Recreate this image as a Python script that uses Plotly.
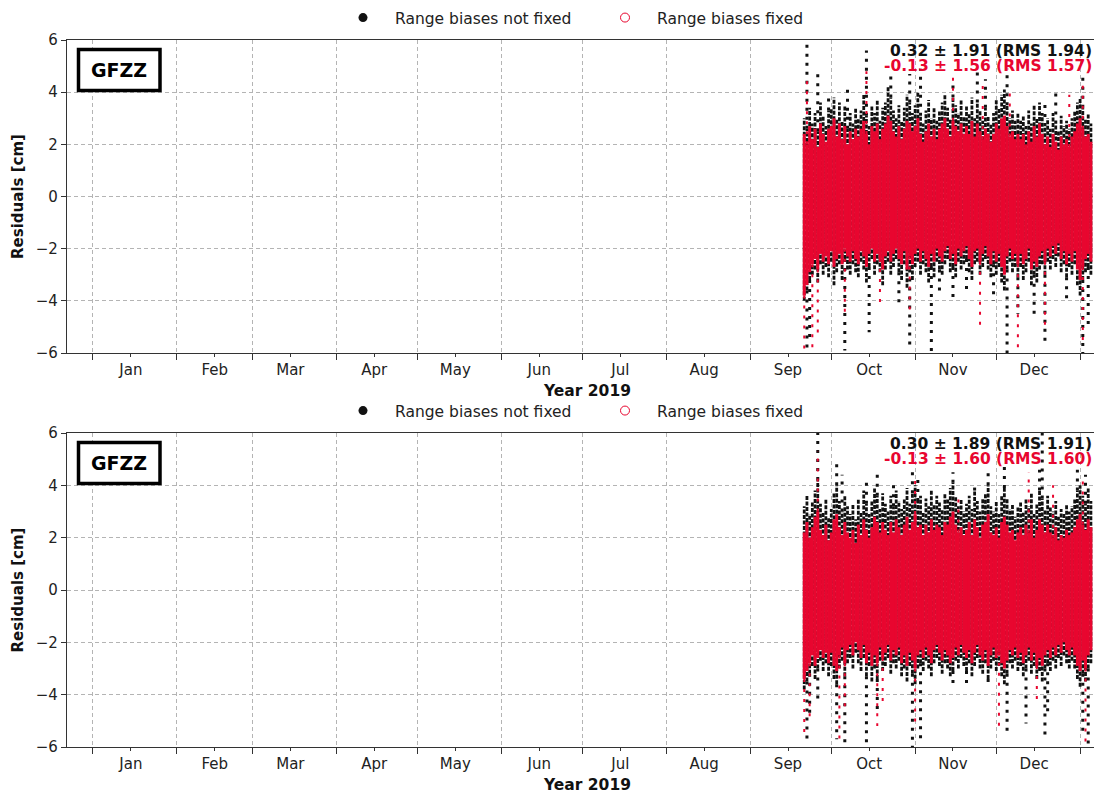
import pandas as pd
import plotly.graph_objects as go

# ---------------- data ----------------
START = "2019-09-21"          # first day with residuals
MONTHS = ["Jan", "Feb", "Mar", "Apr", "May", "Jun", "Jul", "Aug", "Sep", "Oct", "Nov", "Dec"]
MONTH_MID = ["2019-01-15", "2019-02-15", "2019-03-15", "2019-04-15", "2019-05-15", "2019-06-15",
             "2019-07-15", "2019-08-15", "2019-09-15", "2019-10-15", "2019-11-15", "2019-12-15"]
MONTH_START = ["2019-01-01", "2019-02-01", "2019-03-01", "2019-04-01", "2019-05-01", "2019-06-01",
               "2019-07-01", "2019-08-01", "2019-09-01", "2019-10-01", "2019-11-01", "2019-12-01",
               "2020-01-01"]
Y_TICKS = [-6, -4, -2, 0, 2, 4, 6]
X_TITLE = "Year 2019"
Y_TITLE = "Residuals [cm]"

# ---- panel 1: daily envelope of the dense residual band [cm]
NF1_HI = [3.0, 2.6, 3.4, 2.8, 3.2, 2.5, 3.6, 3.1, 2.7, 3.3,
          3.4, 3.8, 3.0, 3.6, 2.9, 3.5, 2.6, 3.2, 2.8, 3.4,
          3.0, 3.3, 3.9, 3.1, 2.7, 3.5, 3.2, 3.7, 2.9, 3.4,
          3.6, 4.2, 3.8, 3.3, 3.0, 3.5, 2.9, 3.4, 3.9, 3.6,
          3.2, 3.5, 4.0, 3.1, 2.8, 3.3, 3.7, 3.0, 3.4, 2.9,
          3.3, 3.6, 3.9, 3.4, 3.0, 3.8, 3.5, 3.2, 3.7, 3.1,
          3.5, 3.2, 3.8, 3.0, 3.6, 3.3, 2.9, 3.4, 3.1, 2.8,
          3.2, 3.7, 3.4, 3.9, 4.1, 3.5, 3.0, 3.3, 2.9, 3.2,
          2.9, 3.1, 2.7, 3.3, 2.8, 3.5, 3.0, 3.6, 3.2, 2.7,
          3.0, 2.6, 3.2, 2.8, 2.5, 3.1, 2.7, 2.9, 2.6, 3.0,
          3.3, 3.6, 3.8, 3.4, 3.0, 3.2, 2.8]
NF1_LO = [-4.0, -3.6, -3.2, -3.0, -2.8, -3.3, -2.6, -3.0, -2.7, -3.1,
          -2.5, -3.4, -2.9, -2.6, -3.2, -2.4, -2.8, -3.0, -2.6, -2.9,
          -3.1, -2.5, -2.8, -3.3, -2.7, -2.4, -3.0, -2.6, -2.9, -3.4,
          -2.8, -2.5, -3.0, -2.7, -2.4, -2.9, -3.2, -2.6, -3.5, -2.8,
          -3.2, -2.7, -2.5, -3.0, -2.6, -2.9, -3.3, -2.7, -3.1, -2.5,
          -2.8, -3.0, -2.6, -2.4, -2.9, -2.7, -3.1, -2.5, -2.8, -2.6,
          -2.4, -2.9, -3.2, -2.6, -2.5, -3.0, -2.7, -2.4, -2.8, -3.1,
          -2.6, -3.0, -2.7, -3.3, -3.6, -2.8, -2.5, -2.9, -2.7, -3.1,
          -2.7, -3.2, -2.9, -2.5, -3.4, -3.0, -3.3, -2.8, -2.6, -3.0,
          -2.5, -2.8, -2.4, -2.7, -2.3, -2.9, -2.6, -3.1, -2.7, -3.0,
          -2.6, -3.4, -3.8, -3.2, -2.9, -2.7, -3.0]
FX1_HI = [2.4, 2.0, 2.7, 2.2, 2.6, 1.9, 2.8, 2.4, 2.1, 2.6,
          2.7, 3.0, 2.3, 2.8, 2.2, 2.7, 2.0, 2.5, 2.2, 2.6,
          2.3, 2.6, 2.9, 2.4, 2.0, 2.7, 2.5, 2.8, 2.2, 2.6,
          2.8, 3.1, 2.9, 2.5, 2.3, 2.7, 2.2, 2.6, 2.9, 2.8,
          2.5, 2.7, 3.0, 2.4, 2.1, 2.5, 2.8, 2.3, 2.6, 2.2,
          2.6, 2.8, 3.0, 2.6, 2.3, 2.9, 2.7, 2.5, 2.8, 2.4,
          2.7, 2.4, 2.9, 2.3, 2.8, 2.5, 2.2, 2.6, 2.4, 2.1,
          2.4, 2.8, 2.6, 3.0, 3.1, 2.7, 2.3, 2.5, 2.2, 2.4,
          2.2, 2.4, 2.0, 2.5, 2.1, 2.7, 2.3, 2.8, 2.4, 2.0,
          2.3, 1.9, 2.4, 2.1, 1.8, 2.3, 2.0, 2.2, 1.9, 2.3,
          2.5, 2.8, 3.0, 2.6, 2.3, 2.4, 2.1]
FX1_LO = [-3.8, -3.4, -2.9, -2.6, -2.4, -2.8, -2.2, -2.5, -2.3, -2.6,
          -2.1, -2.7, -2.4, -2.2, -2.6, -2.0, -2.3, -2.5, -2.1, -2.4,
          -2.6, -2.1, -2.3, -2.7, -2.2, -2.0, -2.5, -2.2, -2.4, -2.8,
          -2.3, -2.1, -2.5, -2.2, -2.0, -2.4, -2.6, -2.1, -2.8, -2.3,
          -2.6, -2.2, -2.0, -2.5, -2.1, -2.4, -2.7, -2.2, -2.5, -2.0,
          -2.3, -2.5, -2.1, -1.9, -2.4, -2.2, -2.6, -2.0, -2.3, -2.1,
          -1.9, -2.4, -2.7, -2.1, -2.0, -2.5, -2.2, -1.9, -2.3, -2.6,
          -2.1, -2.5, -2.2, -2.7, -3.0, -2.3, -2.0, -2.4, -2.2, -2.6,
          -2.2, -2.6, -2.4, -2.0, -2.8, -2.5, -2.7, -2.3, -2.1, -2.5,
          -2.0, -2.3, -1.9, -2.2, -1.8, -2.4, -2.1, -2.6, -2.2, -2.5,
          -2.1, -2.8, -3.2, -2.7, -2.4, -2.2, -2.5]
# sparse outlier columns: (day index, extreme value)
NF1_TAIL_DAY = [1, 1, 2, 5, 9, 15, 16, 23, 24, 32, 35, 39, 39, 43, 47, 50, 55, 55, 60, 64,
                67, 70, 75, 75, 79, 85, 89, 89, 93, 97, 103, 103, 105]
NF1_TAIL_VAL = [6.0, -5.8, -5.5, 4.9, 4.0, -5.9, 4.3, 5.6, -5.2, 4.7, -4.2, -5.9, 4.7, 4.9, -6.0, -3.8, 4.3, -3.9, -3.6, 4.8,
                4.5, -4.0, 4.9, -6.0, -4.5, -4.5, -5.7, 3.7, 4.0, -4.1, 4.7, -6.0, -5.0]
FX1_TAIL_DAY = [0, 1, 3, 5, 15, 23, 28, 39, 55, 65, 66, 76, 79, 89, 98, 103, 103]
FX1_TAIL_VAL = [-5.9, 4.6, -5.8, -5.4, -4.6, 4.8, -4.1, -4.5, 4.7, -5.0, 4.4, 4.1, -6.0, -5.0, 3.9, 4.5, -5.5]

# ---- panel 2
NF2_HI = [3.2, 3.6, 2.9, 3.4, 3.8, 4.2, 3.3, 3.0, 3.5, 2.8,
          3.1, 3.7, 4.0, 3.4, 3.0, 3.6, 3.2, 2.9, 3.3, 2.7,
          3.5, 3.0, 3.8, 3.3, 2.9, 3.4, 3.9, 3.6, 3.1, 3.7,
          3.3, 3.0, 3.6, 3.2, 3.8, 3.4, 3.1, 3.5, 3.9, 3.3,
          3.7, 4.0, 3.4, 3.6, 3.0, 3.5, 3.2, 3.8, 3.3, 3.6,
          3.4, 3.1, 3.7, 3.5, 3.9, 4.1, 3.6, 3.2, 3.5, 3.0,
          3.3, 3.6, 3.1, 3.8, 3.4, 3.0, 3.5, 3.7, 4.0, 3.2,
          3.0, 3.4, 2.9, 3.6, 3.9, 3.5, 3.1, 3.3, 2.8, 3.2,
          3.4, 3.0, 3.5, 3.2, 3.7, 2.9, 3.3, 3.8, 3.5, 3.1,
          3.6, 3.2, 3.0, 3.4, 2.8, 3.1, 2.9, 3.3, 3.0, 3.2,
          3.5, 3.8, 4.0, 3.6, 3.3, 3.9, 3.4]
NF2_LO = [-3.8, -3.5, -3.2, -2.9, -3.4, -3.0, -2.7, -3.1, -2.8, -3.3,
          -2.9, -3.4, -3.6, -3.0, -2.7, -3.3, -2.8, -2.6, -3.0, -2.4,
          -2.8, -3.1, -2.6, -3.3, -2.9, -3.5, -3.0, -3.4, -2.7, -3.1,
          -2.9, -2.6, -3.2, -2.8, -3.0, -2.7, -3.3, -3.0, -3.5, -2.9,
          -3.2, -3.6, -3.0, -2.8, -3.1, -2.7, -3.0, -3.3, -2.8, -2.6,
          -2.9, -3.2, -2.8, -3.0, -3.3, -3.1, -2.7, -3.0, -2.6, -2.9,
          -3.1, -2.8, -3.3, -2.9, -2.6, -3.0, -3.2, -2.8, -3.4, -3.0,
          -2.7, -3.1, -2.9, -3.3, -3.6, -3.2, -2.8, -3.0, -2.7, -3.1,
          -2.9, -3.3, -3.0, -2.7, -3.2, -2.9, -3.4, -3.1, -3.5, -3.0,
          -2.8, -3.1, -2.7, -3.0, -2.6, -2.9, -2.5, -2.8, -3.0, -2.7,
          -3.0, -3.4, -3.7, -3.2, -3.5, -3.0, -2.8]
FX2_HI = [2.2, 2.6, 2.0, 2.4, 2.8, 3.0, 2.3, 2.1, 2.5, 1.9,
          2.2, 2.7, 2.9, 2.4, 2.1, 2.6, 2.2, 2.0, 2.3, 1.8,
          2.5, 2.1, 2.7, 2.3, 2.0, 2.4, 2.8, 2.6, 2.2, 2.6,
          2.3, 2.1, 2.6, 2.2, 2.7, 2.4, 2.1, 2.5, 2.8, 2.3,
          2.6, 2.9, 2.4, 2.5, 2.1, 2.5, 2.2, 2.7, 2.3, 2.5,
          2.4, 2.1, 2.6, 2.5, 2.8, 3.0, 2.5, 2.2, 2.4, 2.1,
          2.3, 2.6, 2.1, 2.7, 2.4, 2.0, 2.5, 2.6, 2.9, 2.2,
          2.1, 2.4, 2.0, 2.6, 2.8, 2.5, 2.2, 2.3, 1.9, 2.2,
          2.4, 2.1, 2.5, 2.2, 2.7, 2.0, 2.3, 2.7, 2.5, 2.2,
          2.5, 2.2, 2.0, 2.4, 1.9, 2.1, 2.0, 2.3, 2.1, 2.2,
          2.4, 2.7, 2.9, 2.5, 2.3, 2.7, 2.4]
FX2_LO = [-3.4, -3.1, -2.8, -2.5, -2.9, -2.6, -2.3, -2.6, -2.4, -2.8,
          -2.4, -2.9, -3.1, -2.5, -2.2, -2.8, -2.3, -2.1, -2.5, -2.0,
          -2.3, -2.6, -2.1, -2.8, -2.4, -2.9, -2.5, -2.8, -2.2, -2.6,
          -2.4, -2.1, -2.7, -2.3, -2.5, -2.2, -2.8, -2.5, -2.9, -2.4,
          -2.7, -3.0, -2.5, -2.3, -2.6, -2.2, -2.5, -2.8, -2.3, -2.1,
          -2.4, -2.7, -2.3, -2.5, -2.8, -2.6, -2.2, -2.5, -2.1, -2.4,
          -2.6, -2.3, -2.8, -2.4, -2.1, -2.5, -2.7, -2.3, -2.9, -2.5,
          -2.2, -2.6, -2.4, -2.8, -3.0, -2.7, -2.3, -2.5, -2.2, -2.6,
          -2.4, -2.8, -2.5, -2.2, -2.7, -2.4, -2.9, -2.6, -2.9, -2.5,
          -2.3, -2.6, -2.2, -2.5, -2.1, -2.4, -2.0, -2.3, -2.5, -2.2,
          -2.5, -2.9, -3.1, -2.7, -3.0, -2.5, -2.3]
NF2_TAIL_DAY = [1, 2, 5, 5, 12, 12, 14, 15, 23, 23, 27, 27, 33, 40, 40, 42, 43, 55, 55, 60,
                63, 68, 68, 74, 75, 82, 87, 88, 89, 90, 101, 103, 104, 105]
NF2_TAIL_VAL = [-5.9, -4.8, 6.0, -4.2, 5.0, -5.7, 4.4, -6.0, 4.2, -6.0, 4.5, -4.6, 4.0, 4.7, -6.0, 4.3, -5.8, 4.5, -3.6, -3.6,
                4.0, 4.6, -3.7, 4.7, -5.6, -5.1, 4.6, 6.0, -5.6, -4.8, 4.6, -5.6, 4.4, -5.9]
FX2_TAIL_DAY = [0, 2, 5, 13, 15, 27, 29, 41, 41, 57, 72, 83, 86, 92, 103, 104]
FX2_TAIL_VAL = [-5.6, -5.0, 5.3, -5.9, -4.7, -5.2, -4.5, -5.3, 4.2, 3.7, -5.3, 4.5, -4.3, 4.0, 4.2, -5.9]

STATS = [("0.32 ± 1.91 (RMS 1.94)", "-0.13 ± 1.56 (RMS 1.57)"),
         ("0.30 ± 1.89 (RMS 1.91)", "-0.13 ± 1.60 (RMS 1.60)")]
STATION = "GFZZ"
NAMES = ["Range biases not fixed", "Range biases fixed"]

# ---------------- styling ----------------
BLACK = "#111111"
RED = "#e8062f"
AX = "#333333"
GRID = "#b4b4b4"
FONT = "DejaVu Sans"

OFF = 8                      # page body margin of the html page
PAGE_W, PAGE_H = 1102, 794
W, H = PAGE_W - OFF, PAGE_H - OFF
# plot box in page pixels
PL, PR = 67, 1102
P1 = (40, 353)
P2 = (433, 747)
L, R = PL - OFF, (PAGE_W - PR)
T, B = P1[0] - OFF, PAGE_H - P2[1]
PW, PH = W - L - R, H - T - B


def px(x):   # page x -> paper fraction
    return (x - OFF - L) / PW


def py(y):   # page y -> paper fraction
    return (H - B - (y - OFF)) / PH


def segments(days, lo, hi):
    xs, ys = [], []
    for d, a, b in zip(days, lo, hi):
        xs += [d, d, None]
        ys += [a, b, None]
    return xs, ys


def tails(days, lo, hi, tday, tval):
    xs, ys = [], []
    for i, v in zip(tday, tval):
        base = hi[i] if v > 0 else lo[i]
        xs += [days[i], days[i], None]
        ys += [base, v, None]
    return xs, ys


fig = go.Figure()
panels = [
    (NF1_LO, NF1_HI, FX1_LO, FX1_HI, NF1_TAIL_DAY, NF1_TAIL_VAL, FX1_TAIL_DAY, FX1_TAIL_VAL, "x", "y", "legend"),
    (NF2_LO, NF2_HI, FX2_LO, FX2_HI, NF2_TAIL_DAY, NF2_TAIL_VAL, FX2_TAIL_DAY, FX2_TAIL_VAL, "x2", "y2", "legend2"),
]
for (nlo, nhi, flo, fhi, ntd, ntv, ftd, ftv, xa, ya, lg) in panels:
    days = list(pd.date_range(START, periods=len(nhi), freq="D"))
    x, y = tails(days, nlo, nhi, ntd, ntv)
    fig.add_trace(go.Scatter(x=x, y=y, mode="lines", xaxis=xa, yaxis=ya, showlegend=False,
                             line=dict(color=BLACK, width=3, dash="3px,6px"), hoverinfo="skip"))
    x, y = segments(days, nlo, nhi)
    fig.add_trace(go.Scatter(x=x, y=y, mode="lines", xaxis=xa, yaxis=ya, showlegend=False,
                             line=dict(color=BLACK, width=2.8, dash="4px,1.5px"), hoverinfo="skip"))
    x, y = tails(days, flo, fhi, ftd, ftv)
    fig.add_trace(go.Scatter(x=x, y=y, mode="lines", xaxis=xa, yaxis=ya, showlegend=False,
                             line=dict(color=RED, width=2, dash="3px,7px"), hoverinfo="skip"))
    x, y = segments(days, flo, fhi)
    fig.add_trace(go.Scatter(x=x, y=y, mode="lines", xaxis=xa, yaxis=ya, showlegend=False,
                             line=dict(color=RED, width=3), hoverinfo="skip"))
    # legend entries
    fig.add_trace(go.Scatter(x=[None], y=[None], mode="markers", name=NAMES[0], xaxis=xa, yaxis=ya,
                             legend=lg, marker=dict(symbol="circle", size=9, color=BLACK)))
    fig.add_trace(go.Scatter(x=[None], y=[None], mode="markers", name=NAMES[1], xaxis=xa, yaxis=ya,
                             legend=lg, marker=dict(symbol="circle-open", size=9, color=RED,
                                                    line=dict(width=1, color=RED))))

XRANGE = ["2018-12-22 09:36", "2020-01-09 02:24"]


def xaxis_cfg(anchor):
    return dict(
        anchor=anchor, domain=[0, 1], type="date", range=XRANGE, automargin=False,
        tickmode="array", tickvals=MONTH_MID, ticktext=MONTHS,
        ticks="outside", ticklen=3, tickwidth=1, tickcolor=AX,
        showgrid=False, zeroline=False,
        showline=True, linecolor=AX, linewidth=1.3, mirror=True,
        tickfont=dict(family=FONT, size=15, color="#222"),
        minor=dict(tickmode="array", tickvals=MONTH_START, ticks="outside", ticklen=6,
                   tickcolor=AX, tickwidth=1, showgrid=True, gridcolor=GRID,
                   griddash="4px,3px", gridwidth=0.8),
    )


def yaxis_cfg(anchor, dom):
    return dict(
        anchor=anchor, domain=dom, range=[-6, 6], automargin=False,
        tickmode="array", tickvals=Y_TICKS,
        ticks="outside", ticklen=5, tickwidth=1, tickcolor=AX,
        showgrid=True, gridcolor=GRID, griddash="4px,3px", gridwidth=0.8,
        zeroline=False, showline=True, linecolor=AX, linewidth=1.3,
        tickfont=dict(family=FONT, size=15, color="#222"),
        title=dict(text="<b>%s</b>" % Y_TITLE, font=dict(family=FONT, size=15, color="#111"), standoff=8),
    )


annotations = []
shapes = []
for (top, bot), (s_nf, s_fx) in zip([P1, P2], STATS):
    shapes.append(dict(type="rect", xref="paper", yref="paper",
                       x0=px(78.5), x1=px(160), y0=py(top + 50.5), y1=py(top + 9.5),
                       line=dict(color="black", width=3.5), fillcolor="white", layer="above"))
    annotations.append(dict(text="<b>%s</b>" % STATION, xref="paper", yref="paper",
                            x=px(119), y=py(top + 30), xanchor="center", yanchor="middle",
                            showarrow=False, font=dict(family=FONT, size=19, color="black")))
    annotations.append(dict(text="<b>%s</b>" % s_nf, xref="paper", yref="paper",
                            x=px(1094), y=py(top + 11), xanchor="right", yanchor="middle",
                            showarrow=False, font=dict(family=FONT, size=15.5, color=BLACK)))
    annotations.append(dict(text="<b>%s</b>" % s_fx, xref="paper", yref="paper",
                            x=px(1094), y=py(top + 26), xanchor="right", yanchor="middle",
                            showarrow=False, font=dict(family=FONT, size=15.5, color=RED)))
    annotations.append(dict(text="<b>%s</b>" % X_TITLE, xref="paper", yref="paper",
                            x=px(587), y=py(bot + 38), xanchor="center", yanchor="middle",
                            showarrow=False, font=dict(family=FONT, size=15.5, color="#111")))

legend_common = dict(orientation="h", xref="container", yref="container",
                     xanchor="left", yanchor="middle", x=(331 - OFF) / W,
                     font=dict(family=FONT, size=15.5, color="#222"), bgcolor="rgba(0,0,0,0)",
                     itemwidth=54, entrywidth=193, entrywidthmode="pixels", itemclick=False)

fig.update_layout(
    width=W, height=H,
    margin=dict(l=L, r=R, t=T, b=B, autoexpand=False),
    paper_bgcolor="white", plot_bgcolor="white",
    font=dict(family=FONT, size=14, color="#222"),
    xaxis=xaxis_cfg("y"),
    yaxis=yaxis_cfg("x", [py(P1[1]), py(P1[0])]),
    xaxis2=xaxis_cfg("y2"),
    yaxis2=yaxis_cfg("x2", [py(P2[1]), py(P2[0])]),
    legend=dict(legend_common, y=1 - (18 - OFF) / H),
    legend2=dict(legend_common, y=1 - (411 - OFF) / H),
    annotations=annotations,
    shapes=shapes,
)

fig.write_html("out.html")
